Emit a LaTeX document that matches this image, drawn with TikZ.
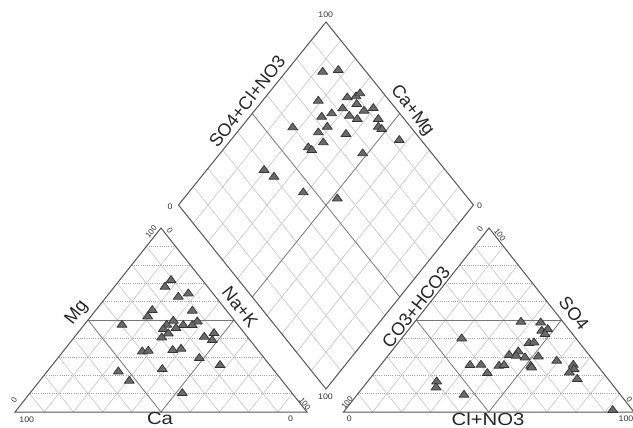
\documentclass[tikz,border=0pt]{standalone}
\usepackage{fontspec}
\setmainfont{Liberation Sans}
\usetikzlibrary{calc}
\definecolor{edgec}{HTML}{555555}
\definecolor{gridc}{HTML}{C4C4C4}
\definecolor{dotc}{HTML}{A0A0A0}
\definecolor{halfc}{HTML}{777777}
\definecolor{mkfill}{HTML}{6A6A6A}
\definecolor{mkline}{HTML}{333333}
\tikzset{
  gridline/.style={draw=gridc, line width=0.6pt},
  dotline/.style={draw=dotc, line width=0.6pt, dash pattern=on 1pt off 1.2pt},
  halfline/.style={draw=halfc, line width=0.8pt},
  edgeline/.style={draw=edgec, line width=1pt, line join=miter},
  mk/.style={fill=mkfill, draw=mkline, line width=0.7pt, line join=round},
  axl/.style={font=\fontsize{18}{20}\selectfont, inner sep=0pt, text=black!85},
  axlh/.style={font=\fontsize{17.5}{20}\selectfont, inner sep=0pt, xscale=1.16, text=black!85},
  num/.style={font=\fontsize{8}{9}\selectfont, inner sep=0pt, text=black!80},
  numh/.style={font=\fontsize{8}{9}\selectfont, inner sep=0pt, xscale=1.1, text=black!80}
}
\begin{document}
\begin{tikzpicture}[x=1pt,y=-1pt]
\useasboundingbox[fill=white] (0,0) rectangle (633,428);
% vertices
\coordinate (LA) at (15,412); \coordinate (LB) at (307,412); \coordinate (LC) at (161,228);
\coordinate (RA) at (343.5,412); \coordinate (RB) at (634,412); \coordinate (RC) at (489,228);
\coordinate (DT) at (326,22); \coordinate (DR) at (473.5,205); \coordinate (DB) at (326,389); \coordinate (DL) at (178.5,205);
% triangle grids
\foreach \A/\B/\C in {LA/LB/LC, RA/RB/RC}{
  \foreach \i in {1,2,3,4,6,7,8,9}{
    \pgfmathsetmacro\t{\i/10}
    \pgfmathsetmacro\s{1-\i/10}
    \draw[gridline] ($(\A)!\t!(\B)$) -- ($(\B)!\s!(\C)$);
    \draw[gridline] ($(\A)!\t!(\B)$) -- ($(\A)!\t!(\C)$);
    \draw[dotline] ($(\A)!\t!(\C)$) -- ($(\B)!\t!(\C)$);
  }
  \draw[halfline] ($(\A)!0.5!(\C)$) -- ($(\B)!0.5!(\C)$);
  \draw[halfline] ($(\A)!0.5!(\C)$) -- ($(\A)!0.5!(\B)$) -- ($(\B)!0.5!(\C)$);
}
% diamond grid
\foreach \i in {1,2,3,4,6,7,8,9}{
  \pgfmathsetmacro\t{\i/10}
  \draw[gridline] ($(DL)!\t!(DB)$) -- ($(DT)!\t!(DR)$);
  \draw[gridline] ($(DL)!\t!(DT)$) -- ($(DB)!\t!(DR)$);
}
\draw[halfline] ($(DL)!0.5!(DB)$) -- ($(DT)!0.5!(DR)$);
\draw[halfline] ($(DL)!0.5!(DT)$) -- ($(DB)!0.5!(DR)$);
% outlines
\draw[edgeline] (LA) -- (LB) -- (LC) -- cycle;
\draw[edgeline] (RA) -- (RB) -- (RC) -- cycle;
\draw[edgeline] (DT) -- (DR) -- (DB) -- (DL) -- cycle;
% markers
\foreach \x/\y in {
 171/279.3,165/286,188.3/292.7,178.3/296,192.3/310,152.3/309.3,147.7/315.7,122/324,173.3/320,166.7/324,
 197.3/320.7,183.3/324.3,192.3/324.3,176/327.3,163.3/328.3,168.3/332.7,161.7/336.7,214/332.3,204.3/336,212.3/339.3,
 142.3/350.7,148.3/350,172.7/349.3,181/348,199.3/357.3,220/364.3,162.3/368.3,118.3/370.7,129.3/380,182.3/392.3,
 322.7/71,338.3/69.3,318.3/100,347.3/96.7,356/95.7,360/92.7,356.7/103.3,342.7/107.7,364/110,373.3/107.3,
 331.7/112.7,321.7/116,349.3/115,357.3/118.3,378.3/118.3,378.3/126,381.7/128.3,292.7/126.7,327.3/126,318.3/131.7,
 346/133.3,323.3/141.7,399.3/139.3,308.3/146.7,311.7/149.3,362.7/152.7,264/169.3,274/176,303.3/191.7,337.3/197.7,
 521/321,540.7/321.7,541.7/330,547.7/328.3,545/333.3,461.7/337.7,529/342.3,534/341.7,518.3/350.7,509.3/354.3,
 516/355,525/356.7,538.3/355.7,556.7/360,470/364.3,481/364,499/365,504/364.3,530.7/365,531.7/366.7,
 573.3/364,574/368.3,569.3/371.7,487.3/372.3,577.3/378.3,436.7/380.7,436/386.7,464/394,612.7/409.3}{
  \filldraw[mk] (\x-5,\y+3.2) -- (\x+5,\y+3.2) -- (\x,\y-3.8) -- cycle;
}
% axis labels
\node[axl, rotate=51.8] (mg) at (77,313) {Mg};
\node[axl, rotate=-51.8] (nak) at (240,307) {Na+K};
\node[axlh] (ca) at (160,418.8) {Ca};
\node[axl, rotate=51.8] (sclno) at (247,101) {SO4+Cl+NO3};
\node[axl, rotate=-51.8] (camg) at (412,111) {Ca+Mg};
\node[axl, rotate=51.8] (cohco) at (416,307) {CO3+HCO3};
\node[axl, rotate=-51.8] (sof) at (574,313) {SO4};
\node[axlh] (clno) at (488,418.8) {Cl+NO3};
% tick labels
\node[num, rotate=51.8] (l1) at (151,232) {100};
\node[num, rotate=-51.8] (l2) at (170,230.5) {0};
\node[num, rotate=51.8] (l3) at (14,400.5) {0};
\node[numh] (l4) at (26.7,419.3) {100};
\node[numh] (l5) at (290.5,418.8) {0};
\node[num, rotate=-51.8] (l6) at (305,404) {100};
\node[numh] (d1) at (325.7,15) {100};
\node[numh] (d2) at (170,206.5) {0};
\node[numh] (d3) at (479.5,206) {0};
\node[numh] (d4) at (325.5,396.7) {100};
\node[num, rotate=51.8] (r1) at (480,229.5) {0};
\node[num, rotate=-51.8] (r2) at (500,235) {100};
\node[num, rotate=51.8] (r3) at (347,403) {100};
\node[numh] (r4) at (349.3,418.3) {0};
\node[numh] (r5) at (626,418.3) {100};
\node[num, rotate=-51.8] (r6) at (629.5,400) {0};
\end{tikzpicture}
\end{document}
